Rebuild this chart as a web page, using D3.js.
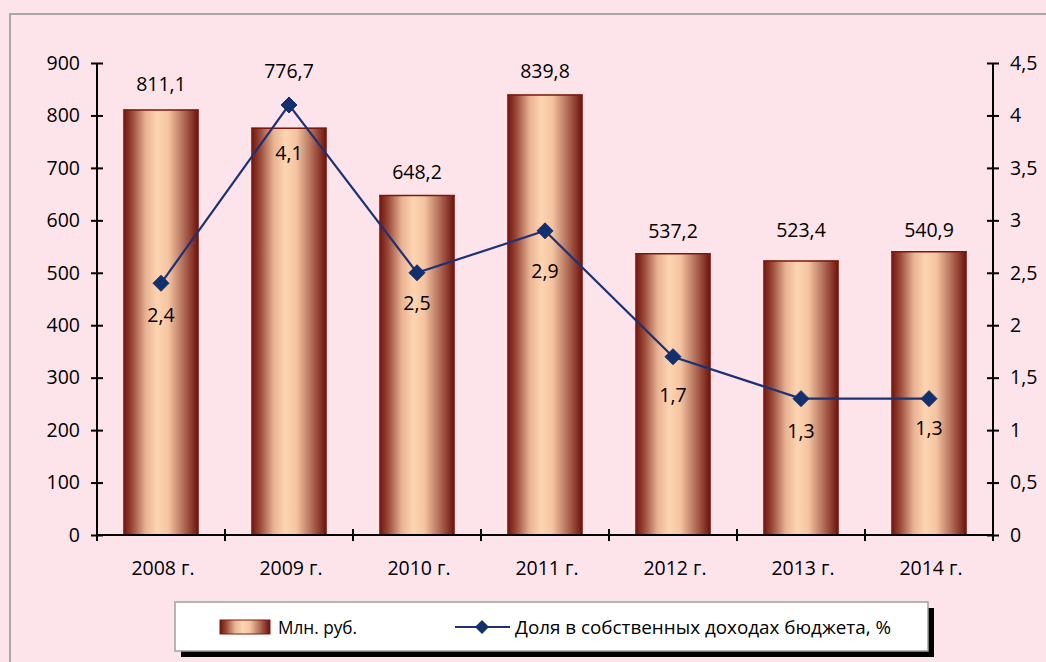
<!DOCTYPE html>
<html>
<head>
<meta charset="utf-8">
<script src="https://cdn.jsdelivr.net/npm/d3@7"></script>
<style>
  body { margin: 0; background: #fde4ea; }
  svg { display: block; }
  text { font-family: "Open Sans", "Noto Sans", sans-serif; fill: #000; }
</style>
</head>
<body>
<div id="chart"></div>
<script>
// chart data
const years = ["2008 г.", "2009 г.", "2010 г.", "2011 г.", "2012 г.", "2013 г.", "2014 г."];
const amounts = [811.1, 776.7, 648.2, 839.8, 537.2, 523.4, 540.9];   // Млн. руб.
const shares = [2.4, 4.1, 2.5, 2.9, 1.7, 1.3, 1.3];                  // %
const leftTicks = [0, 100, 200, 300, 400, 500, 600, 700, 800, 900];
const rightTicks = [0, 0.5, 1, 1.5, 2, 2.5, 3, 3.5, 4, 4.5];

// label shifts as placed by hand in the original
const amountLabelDy = [-26, -57, -24, -24, -23, -31, -22];
const shareLabelDy = [31, 48, 30, 40, 38, 32, 29];

const W = 1046, H = 662;
const margin = {top: 63, right: 53, bottom: 127, left: 97};
const width = W - margin.left - margin.right,
      height = H - margin.top - margin.bottom;

const ru = d3.formatLocale({decimal: ",", thousands: " ", grouping: [3], currency: ["", ""]});
const fmt1 = ru.format(".1f");
const fmtTick = d3.format("~g");
const FS = "19.5px";

const svg = d3.select("#chart").append("svg")
  .attr("width", W).attr("height", H);

// bar gradient (cylinder look)
const defs = svg.append("defs");
const grad = defs.append("linearGradient").attr("id", "barGrad")
  .attr("x1", "0%").attr("x2", "100%").attr("y1", "0%").attr("y2", "0%");
[[0, "#741208"], [0.12, "#9a4a3a"], [0.3, "#e8b494"], [0.45, "#ffd4b0"], [0.6, "#f4c4a0"],
 [0.8, "#b06c58"], [1, "#6e0e06"]].forEach(s => {
  grad.append("stop").attr("offset", s[0]).attr("stop-color", s[1]);
});

// outer grey frame
svg.append("rect")
  .attr("x", 10).attr("y", 14).attr("width", W + 20).attr("height", H + 20)
  .attr("fill", "none").attr("stroke", "#a8a8a8").attr("stroke-width", 2);

const g = svg.append("g").attr("transform", "translate(" + margin.left + "," + margin.top + ")");

const x = d3.scaleBand().domain(years).range([0, width]).paddingInner(0.41).paddingOuter(0.205);
const xEdge = d3.scaleLinear().domain([0, years.length]).range([0, width]);
const y = d3.scaleLinear().domain([0, 900]).range([height, 0]);
const y2 = d3.scaleLinear().domain([0, 4.5]).range([height, 0]);

// bars
g.selectAll(".bar").data(amounts).enter().append("rect")
  .attr("class", "bar")
  .attr("x", (d, i) => x(years[i]))
  .attr("y", d => y(d))
  .attr("width", x.bandwidth())
  .attr("height", d => height - y(d))
  .attr("fill", "url(#barGrad)");
g.selectAll(".bartop").data(amounts).enter().append("line")
  .attr("x1", (d, i) => x(years[i]))
  .attr("x2", (d, i) => x(years[i]) + x.bandwidth())
  .attr("y1", d => y(d) + 0.5).attr("y2", d => y(d) + 0.5)
  .attr("stroke", "#7a1a0c").attr("stroke-width", 1.5);

// bar labels
g.selectAll(".barlab").data(amounts).enter().append("text")
  .attr("x", (d, i) => x(years[i]) + x.bandwidth() / 2)
  .attr("y", (d, i) => y(d) + amountLabelDy[i])
  .attr("text-anchor", "middle").attr("dominant-baseline", "central")
  .style("font-size", FS)
  .text(d => fmt1(d));

// left axis
const left = g.append("g")
  .call(d3.axisLeft(y).tickValues(leftTicks).tickSize(6).tickPadding(11).tickFormat(d3.format("d")));
left.selectAll(".tick line").attr("x2", -6).attr("x1", 6);
// right axis
const right = g.append("g").attr("transform", "translate(" + width + ",0)")
  .call(d3.axisRight(y2).tickValues(rightTicks).tickSize(6).tickPadding(11)
    .tickFormat(d => fmtTick(d).replace(".", ",")));
right.selectAll(".tick line").attr("x1", -6).attr("x2", 6);
[left, right].forEach(a => {
  a.select(".domain").attr("d", "M0,0V" + height).attr("stroke", "#000").attr("stroke-width", 2);
  a.selectAll(".tick line").attr("stroke", "#000").attr("stroke-width", 2);
  a.selectAll(".tick text").style("font-size", FS).attr("fill", "#000")
    .style("font-family", "'Open Sans', 'Noto Sans', sans-serif");
});

// x axis
const xa = g.append("g").attr("transform", "translate(0," + height + ")");
xa.append("line").attr("x1", 0).attr("x2", width).attr("stroke", "#000").attr("stroke-width", 2);
xa.selectAll(".xt").data(d3.range(years.length + 1)).enter().append("line")
  .attr("x1", d => xEdge(d)).attr("x2", d => xEdge(d))
  .attr("y1", -6).attr("y2", 6).attr("stroke", "#000").attr("stroke-width", 2);
xa.selectAll(".xl").data(years).enter().append("text")
  .attr("x", d => x(d) + x.bandwidth() / 2 + 2).attr("y", 32)
  .attr("text-anchor", "middle").attr("dominant-baseline", "central")
  .style("font-size", FS).text(d => d);

// line series
const cx = i => x(years[i]) + x.bandwidth() / 2;
g.append("path").datum(shares)
  .attr("fill", "none").attr("stroke", "#1c3276").attr("stroke-width", 2.2)
  .attr("d", d3.line().x((d, i) => cx(i)).y(d => y2(d)));
g.selectAll(".mk").data(shares).enter().append("path")
  .attr("transform", (d, i) => "translate(" + cx(i) + "," + y2(d) + ")")
  .attr("d", "M0,-8L8,0L0,8L-8,0Z")
  .attr("fill", "#12306e").attr("stroke", "#12306e").attr("stroke-width", 1);
g.selectAll(".shlab").data(shares).enter().append("text")
  .attr("x", (d, i) => cx(i))
  .attr("y", (d, i) => y2(d) + shareLabelDy[i])
  .attr("text-anchor", "middle").attr("dominant-baseline", "central")
  .style("font-size", FS)
  .text(d => fmt1(d));

// legend
const lg = svg.append("g");
lg.append("rect").attr("x", 181).attr("y", 608).attr("width", 753).attr("height", 49).attr("fill", "#000");
lg.append("rect").attr("x", 175).attr("y", 602).attr("width", 753).attr("height", 49)
  .attr("fill", "#fff").attr("stroke", "#a0a0a0").attr("stroke-width", 1.5);
lg.append("rect").attr("x", 220).attr("y", 620).attr("width", 50).attr("height", 14)
  .attr("fill", "url(#barGrad)").attr("stroke", "#7a1a0c").attr("stroke-width", 1);
lg.append("text").attr("x", 278).attr("y", 627).attr("dominant-baseline", "central")
  .style("font-size", "19px")
  .attr("textLength", 79).attr("lengthAdjust", "spacingAndGlyphs")
  .text("Млн. руб.");
lg.append("line").attr("x1", 455).attr("x2", 510).attr("y1", 627).attr("y2", 627)
  .attr("stroke", "#1c3276").attr("stroke-width", 2.2);
lg.append("path").attr("transform", "translate(482,627)").attr("d", "M0,-7L7,0L0,7L-7,0Z")
  .attr("fill", "#12306e");
lg.append("text").attr("x", 515).attr("y", 627).attr("dominant-baseline", "central")
  .style("font-size", "19px")
  .attr("textLength", 376).attr("lengthAdjust", "spacingAndGlyphs")
  .text("Доля в собственных доходах бюджета, %");
</script>
</body>
</html>
